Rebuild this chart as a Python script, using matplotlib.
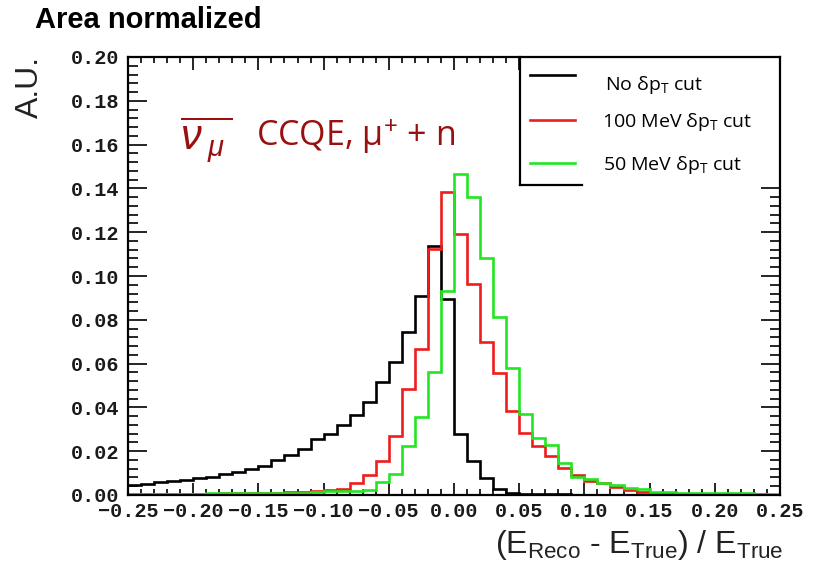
import numpy as np
import matplotlib

matplotlib.use("Agg")
import matplotlib.pyplot as plt
from matplotlib.lines import Line2D
from matplotlib.patches import Rectangle

# bin edges of the histograms: 50 bins of 0.01 from -0.25 to 0.25
bin_lo = -0.25
bin_w = 0.01
n_bins = 50

no_cut = [
    0.0045, 0.0050, 0.0058, 0.0064, 0.0068, 0.0076, 0.0084, 0.0096, 0.0104, 0.0117,
    0.0132, 0.0160, 0.0183, 0.0209, 0.0254, 0.0280, 0.0320, 0.0365, 0.0423, 0.0514,
    0.0606, 0.0743, 0.0910, 0.1138, 0.0895, 0.0280, 0.0155, 0.0076, 0.0027, 0.0010,
    0.0006, 0.0004, 0.0003, 0.0003, 0.0002, 0.0002, 0.0002, 0.0002, 0.0002, 0.0002,
    0.0001, 0.0001, 0.0001, 0.0001, 0.0001, 0.0001, 0.0001, 0.0001, 0.0001, 0.0001,
]
cut_100 = [
    0.0003, 0.0003, 0.0004, 0.0004, 0.0005, 0.0005, 0.0006, 0.0007, 0.0008, 0.0008,
    0.0009, 0.0010, 0.0012, 0.0014, 0.0017, 0.0023, 0.0026, 0.0053, 0.0091, 0.0157,
    0.0271, 0.0484, 0.0667, 0.1123, 0.1382, 0.1192, 0.0963, 0.0697, 0.0556, 0.0385,
    0.0285, 0.0223, 0.0177, 0.0122, 0.0091, 0.0066, 0.0053, 0.0038, 0.0023, 0.0012,
    0.0009, 0.0007, 0.0006, 0.0005, 0.0004, 0.0004, 0.0003, 0.0003, 0.0003, 0.0002,
]
cut_50 = [
    0.0004, 0.0004, 0.0005, 0.0005, 0.0006, 0.0006, 0.0007, 0.0007, 0.0008, 0.0009,
    0.0009, 0.0010, 0.0011, 0.0011, 0.0012, 0.0017, 0.0020, 0.0020, 0.0021, 0.0061,
    0.0096, 0.0225, 0.0355, 0.0563, 0.0933, 0.1466, 0.1359, 0.1081, 0.0814, 0.0578,
    0.0370, 0.0262, 0.0230, 0.0145, 0.0083, 0.0073, 0.0057, 0.0046, 0.0030, 0.0026,
    0.0015, 0.0012, 0.0011, 0.0010, 0.0009, 0.0008, 0.0008, 0.0007, 0.0006, 0.0006,
]

x_ticks = [-0.25, -0.20, -0.15, -0.10, -0.05, 0.00, 0.05, 0.10, 0.15, 0.20, 0.25]
x_ticklabels = ["\u22120.25", "\u22120.20", "\u22120.15", "\u22120.10", "\u22120.05",
                "0.00", "0.05", "0.10", "0.15", "0.20", "0.25"]
y_ticks = [0.00, 0.02, 0.04, 0.06, 0.08, 0.10, 0.12, 0.14, 0.16, 0.18, 0.20]
y_ticklabels = [f"{v:.2f}" for v in y_ticks]

legend_labels = [
    r"No δp$_\mathregular{T}$ cut",
    r"100 MeV δp$_\mathregular{T}$ cut",
    r"50 MeV δp$_\mathregular{T}$ cut",
]
colors = ["black", "#ee1c1c", "#22e622"]

plt.rcParams["mathtext.fontset"] = "custom"
plt.rcParams["mathtext.rm"] = "Liberation Sans"
plt.rcParams["mathtext.it"] = "Liberation Sans:italic"

W, H = 818, 572
fig = plt.figure(figsize=(W / 100, H / 100), dpi=100)


def px(x):
    return x / W


def py(y):
    return 1 - y / H


ax = fig.add_axes([px(128), py(495), px(780) - px(128), py(57) - py(495)])

edges = bin_lo + bin_w * np.arange(n_bins + 1)
for vals, col in zip([no_cut, cut_100, cut_50], colors):
    ax.stairs(vals, edges, color=col, linewidth=1.9, baseline=None, zorder=3)

ax.set_xlim(-0.25, 0.25)
ax.set_ylim(0, 0.20)
ax.set_xticks(x_ticks)
ax.set_xticklabels(x_ticklabels)
ax.set_yticks(y_ticks)
ax.set_yticklabels(y_ticklabels)
ax.set_xticks(np.arange(-0.25, 0.2501, 0.01), minor=True)
ax.set_yticks(np.arange(0, 0.2001, 0.004), minor=True)

for lab in ax.get_xticklabels() + ax.get_yticklabels():
    lab.set_fontfamily("Liberation Mono")
    lab.set_fontweight("bold")
    lab.set_fontsize(14.5)
    lab.set_color("#1a1a1a")

ax.tick_params(axis="both", which="both", direction="in", top=True, right=True,
               width=1.2, color="black")
ax.tick_params(axis="y", which="major", length=14, pad=6)
ax.tick_params(axis="y", which="minor", length=7)
ax.tick_params(axis="x", which="major", length=9, pad=5)
ax.tick_params(axis="x", which="minor", length=4.5)
for spine in ax.spines.values():
    spine.set_linewidth(1.6)
    spine.set_zorder(10)

# legend box (ROOT style, partly covered by the pasted labels)
lx0 = (520 - 128) / 652
ly0 = (495 - 185) / 438
ax.add_patch(Rectangle((lx0, ly0), 1 - lx0, 1 - ly0, transform=ax.transAxes,
                       facecolor="white", edgecolor="none", zorder=5, clip_on=False))
ax.plot([lx0, lx0], [ly0, 1], color="black", lw=1.6, transform=ax.transAxes,
        zorder=6, clip_on=False)
ax.plot([lx0, (582 - 128) / 652], [ly0, ly0], color="black", lw=1.6,
        transform=ax.transAxes, zorder=6, clip_on=False)

for i, (lab, col) in enumerate(zip(legend_labels, colors)):
    ly = [75, 120, 163][i]
    tx = [605, 602, 603][i]
    ty = [85, 122, 165][i]
    fig.add_artist(Line2D([px(530), px(575)], [py(ly), py(ly)], color=col, lw=1.9))
    fig.text(px(tx), py(ty), lab, fontsize=14, family=["Open Sans", "DejaVu Sans"],
             ha="left", va="center", color="black")

fig.text(px(35), py(6), "Area normalized", fontsize=21, fontweight="bold",
         family="Liberation Sans", ha="left", va="top")
fig.text(px(30), py(87), "A.U.", fontsize=23, family="Liberation Sans",
         rotation=90, ha="center", va="center", color="#222222")
fig.text(px(180), py(151), r"$\overline{\nu_{\;\mu}\,}$", fontsize=30,
         color="#9a1010", ha="left", va="baseline")
fig.text(px(256), py(146), "CCQE, μ$^{+}$ + n",
         fontsize=24.5, family=["Open Sans", "DejaVu Sans"], color="#9a1010",
         ha="left", va="baseline")
fig.text(px(783), py(553),
         r"(E$_{\mathregular{Reco}}$ - E$_{\mathregular{True}}$) / E$_{\mathregular{True}}$",
         fontsize=23, family="Liberation Sans", ha="right", va="baseline",
         color="#222222")

fig.savefig("out.png", dpi=100)
